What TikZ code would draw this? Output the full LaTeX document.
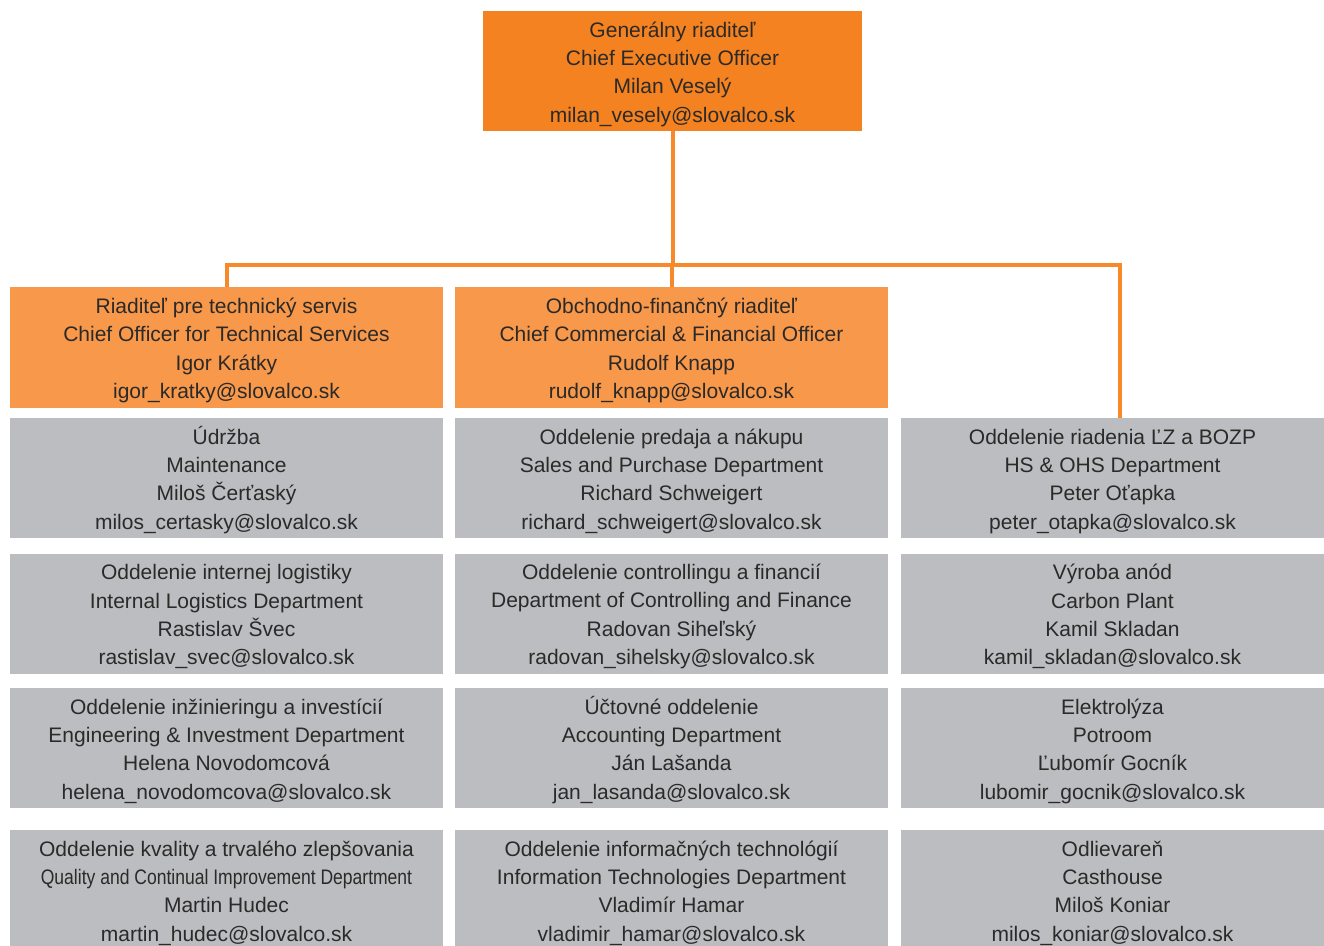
\documentclass[tikz,border=0pt]{standalone}
\usepackage{fontspec}
\setmainfont{Liberation Sans}
\definecolor{ceoor}{HTML}{F58220}
\definecolor{subor}{HTML}{F7984A}
\definecolor{grayb}{HTML}{BCBDC0}
\definecolor{conn}{HTML}{F7892A}
\definecolor{txt}{HTML}{2B2A29}
\newcommand{\tstr}{\rule{0pt}{21.5pt}}
\tikzset{
  box/.style={inner sep=0pt, align=center, text=txt,
    font=\fontsize{21}{28.3}\selectfont},
  ceobox/.style={box, fill=ceoor, minimum width=379pt, minimum height=120pt},
  subbox/.style={box, fill=subor, minimum width=433pt, minimum height=121pt},
  deptbox/.style={box, fill=grayb, minimum width=433pt, minimum height=120pt},
  deptboxr/.style={box, fill=grayb, minimum width=423pt, minimum height=120pt},
  connline/.style={draw=conn, line width=4pt}
}
\begin{document}
\begin{tikzpicture}[x=1pt,y=-1pt]
\useasboundingbox (0,0) rectangle (1324,945);
\fill[white] (0,0) rectangle (1324,945);
% top
\node[ceobox] (ceo) at (672.5,71) {\tstr Generálny riaditeľ\\Chief Executive Officer\\Milan Veselý\\milan\_vesely@slovalco.sk};
% second level
\node[subbox] (t1) at (226.5,347.5) {\tstr Riaditeľ pre technický servis\\Chief Officer for Technical Services\\Igor Krátky\\igor\_kratky@slovalco.sk};
\node[subbox] (t2) at (671.5,347.5) {\tstr Obchodno-finančný riaditeľ\\Chief Commercial \& Financial Officer\\Rudolf Knapp\\rudolf\_knapp@slovalco.sk};
% column 1
\node[deptbox] (a1) at (226.5,478) {\tstr Údržba\\Maintenance\\Miloš Čerťaský\\milos\_certasky@slovalco.sk};
\node[deptbox] (a2) at (226.5,613.5) {\tstr Oddelenie internej logistiky\\Internal Logistics Department\\Rastislav Švec\\rastislav\_svec@slovalco.sk};
\node[deptbox] (a3) at (226.5,748) {\tstr Oddelenie inžinieringu a investícií\\Engineering \& Investment Department\\Helena Novodomcová\\helena\_novodomcova@slovalco.sk};
\node[deptbox] (a4) at (226.5,890) {\tstr Oddelenie kvality a trvalého zlepšovania\\\scalebox{0.835}[1]{Quality and Continual Improvement Department}\\Martin Hudec\\martin\_hudec@slovalco.sk};
% column 2
\node[deptbox] (b1) at (671.5,478) {\tstr Oddelenie predaja a nákupu\\Sales and Purchase Department\\Richard Schweigert\\richard\_schweigert@slovalco.sk};
\node[deptbox] (b2) at (671.5,613.5) {\tstr Oddelenie controllingu a financií\\Department of Controlling and Finance\\Radovan Siheľský\\radovan\_sihelsky@slovalco.sk};
\node[deptbox] (b3) at (671.5,748) {\tstr Účtovné oddelenie\\Accounting Department\\Ján Lašanda\\jan\_lasanda@slovalco.sk};
\node[deptbox] (b4) at (671.5,890) {\tstr Oddelenie informačných technológií\\Information Technologies Department\\Vladimír Hamar\\vladimir\_hamar@slovalco.sk};
% column 3
\node[deptboxr] (h1) at (1112.5,478) {\tstr Oddelenie riadenia ĽZ a BOZP\\HS \& OHS Department\\Peter Oťapka\\peter\_otapka@slovalco.sk};
\node[deptboxr] (c2) at (1112.5,613.5) {\tstr Výroba anód\\Carbon Plant\\Kamil Skladan\\kamil\_skladan@slovalco.sk};
\node[deptboxr] (c3) at (1112.5,748) {\tstr Elektrolýza\\Potroom\\Ľubomír Gocník\\lubomir\_gocnik@slovalco.sk};
\node[deptboxr] (c4) at (1112.5,890) {\tstr Odlievareň\\Casthouse\\Miloš Koniar\\milos\_koniar@slovalco.sk};
% connectors
\coordinate (bus) at (672.5,265);
\coordinate (busr) at (1120,265);
\draw[connline] (ceo.south) -- (bus);
\draw[connline] (t1.north) |- (bus);
\draw[connline] (t2.north) -- (t2.north |- bus);
\draw[connline] (bus) -- (busr) -- (busr |- h1.north);
\end{tikzpicture}
\end{document}
